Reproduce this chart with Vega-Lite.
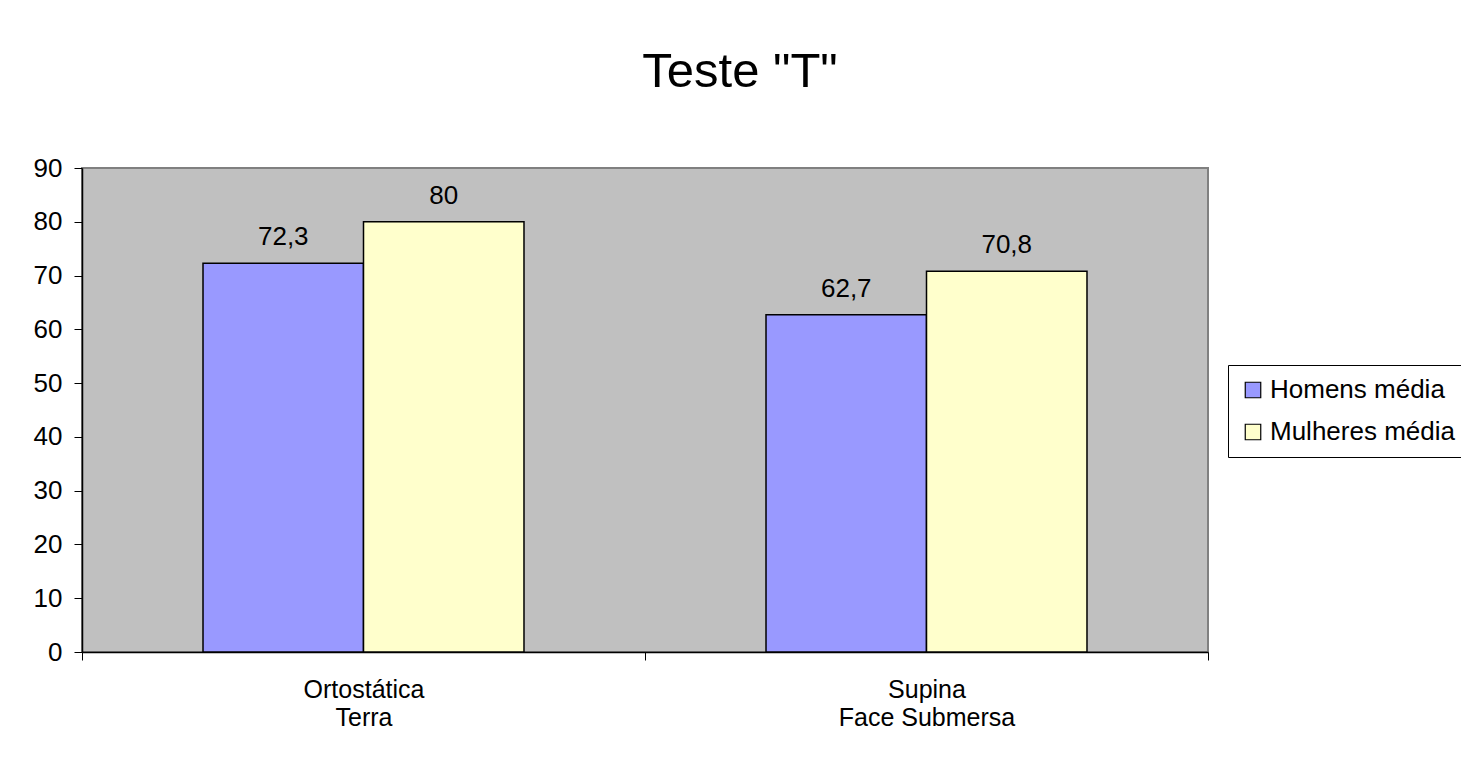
{
  "$schema": "https://vega.github.io/schema/vega-lite/v6.json",
  "width": 1126,
  "height": 484,
  "autosize": {"type": "none"},
  "padding": {"left": 82, "top": 168, "right": 253, "bottom": 115},
  "background": "white",
  "title": {
    "text": "Teste \"T\"",
    "fontSize": 49,
    "fontWeight": "normal",
    "font": "Liberation Sans",
    "color": "black",
    "anchor": "middle",
    "frame": "group",
    "dx": 95,
    "offset": 58
  },
  "data": {
    "values": [
      {"cat": "Ortostática|Terra", "serie": "Homens média", "valor": 72.3},
      {"cat": "Ortostática|Terra", "serie": "Mulheres média", "valor": 80},
      {"cat": "Supina|Face Submersa", "serie": "Homens média", "valor": 62.7},
      {"cat": "Supina|Face Submersa", "serie": "Mulheres média", "valor": 70.8}
    ]
  },
  "encoding": {
    "x": {
      "field": "cat",
      "type": "nominal",
      "sort": null,
      "scale": {"paddingInner": 0, "paddingOuter": 0},
      "axis": {
        "title": null,
        "labelAngle": 0,
        "labelExpr": "split(datum.label, '|')",
        "labelFontSize": 25,
        "labelLineHeight": 28,
        "labelFont": "Liberation Sans",
        "labelColor": "black",
        "labelPadding": 17,
        "labelLimit": 500,
        "tickBand": "extent",
        "tickSize": 8,
        "tickColor": "black",
        "domainColor": "black",
        "domainWidth": 1.5,
        "grid": false
      }
    },
    "xOffset": {
      "field": "serie",
      "type": "nominal",
      "scale": {"paddingInner": 0, "paddingOuter": 0.754}
    },
    "y": {
      "field": "valor",
      "type": "quantitative",
      "scale": {"domain": [0, 90], "nice": false},
      "axis": {
        "title": null,
        "values": [0, 10, 20, 30, 40, 50, 60, 70, 80, 90],
        "labelFontSize": 26,
        "labelFont": "Liberation Sans",
        "labelColor": "black",
        "labelPadding": 12,
        "tickSize": 8,
        "tickColor": "black",
        "domainColor": "black",
        "domainWidth": 1.5,
        "grid": false
      }
    }
  },
  "layer": [
    {
      "mark": {"type": "bar", "stroke": "black", "strokeWidth": 1.5},
      "encoding": {
        "color": {
          "field": "serie",
          "type": "nominal",
          "scale": {"domain": ["Homens média", "Mulheres média"], "range": ["#9999FF", "#FFFFCC"]},
          "legend": {
            "title": null,
            "orient": "none",
            "legendX": 1146,
            "legendY": 197,
            "direction": "vertical",
            "padding": 12,
            "strokeColor": "black",
            "fillColor": "white",
            "symbolType": "square",
            "symbolSize": 240,
            "symbolStrokeColor": "black",
            "symbolStrokeWidth": 1.2,
            "symbolOpacity": 1,
            "labelFontSize": 26,
            "labelFont": "Liberation Sans",
            "labelColor": "black",
            "labelOffset": 4,
            "rowPadding": 16,
            "labelLimit": 400
          }
        }
      }
    },
    {
      "mark": {"type": "text", "baseline": "alphabetic", "dy": -18, "fontSize": 26, "font": "Liberation Sans", "color": "black"},
      "encoding": {
        "text": {"field": "valor", "type": "quantitative", "format": ".1~f"}
      }
    }
  ],
  "config": {
    "locale": {"number": {"decimal": ",", "thousands": ".", "grouping": [3], "currency": ["", ""]}},
    "view": {"fill": "#C0C0C0", "stroke": "#808080", "strokeWidth": 2}
  }
}
